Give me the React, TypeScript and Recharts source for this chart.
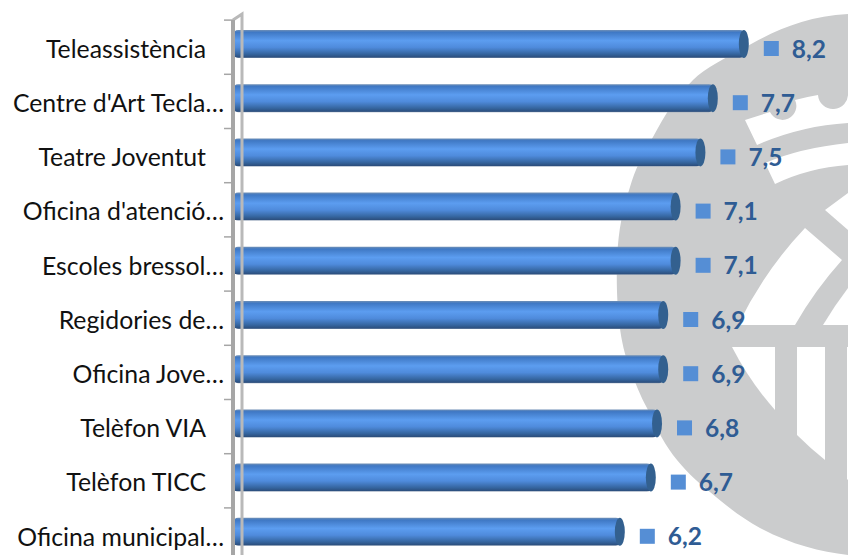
import React from "react"
import { BarChart, Bar, XAxis, YAxis, LabelList } from "recharts"

const services = [
  "Teleassistència",
  "Centre d'Art Tecla…",
  "Teatre Joventut",
  "Oficina d'atenció…",
  "Escoles bressol…",
  "Regidories de…",
  "Oficina Jove…",
  "Telèfon VIA",
  "Telèfon TICC",
  "Oficina municipal…",
]
const scores = [8.2, 7.7, 7.5, 7.1, 7.1, 6.9, 6.9, 6.8, 6.7, 6.2]

const rows = services.map((name, i) => ({ name, score: scores[i] }))

const FONT = "Lato, Carlito, sans-serif"
const GREY = "#cbcccd"

// watermark behind the chart (city emblem)
function Emblem() {
  return (
    <svg width={848} height={555} style={{ position: "absolute", left: 0, top: 0 }}>
      <path
        fill={GREY}
        d="M848,14 C810,16 780,28 753,43 C725,58 705,68 693,80 C675,98 665,115 653,137 C642,155 635,170 630,187 C622,212 618,232 617,262 C616,295 618,340 630,368 C636,385 640,395 647,408 C655,425 662,440 673,455 C685,470 695,480 710,492 C725,505 742,518 760,528 C790,544 820,552 848,555 Z"
      />
      <g fill="#fff">
        <path d="M745,120 L770,112 A12,12 0 0 0 795,100 Q806,97 818,95 A15,15 0 0 0 848,93 L848,123 Q800,126 757,145 Z" />
        <path d="M765,163 Q800,148 848,143 L848,165 Q808,168 775,184 Z" />
        <path d="M805,228 L842,260 Q815,290 795,325 L738,325 Q765,270 805,228 Z" />
        <path d="M825,210 L848,193 L848,230 Z" />
        <path d="M823,325 Q835,305 848,288 L848,325 Z" />
        <path d="M732,347 L775,347 L775,410 Q750,382 732,347 Z" />
        <path d="M797,347 L825,347 L825,460 Q810,448 797,435 Z" />
        <path d="M847,347 L848,347 L848,480 L847,479 Z" />
      </g>
    </svg>
  )
}

function CylinderBar(props: any) {
  const { x, y, width, height, background } = props
  const left = background.x
  const right = x + width
  return (
    <g>
      <rect x={left} y={y} width={right - left - 4} height={height} rx={5} ry={5} fill="url(#barShade)" />
      <ellipse cx={right - 5} cy={y + height / 2} rx={5} ry={height / 2} fill="#33608f" />
    </g>
  )
}

function ServiceTick(props: any) {
  const { y, payload, index } = props
  const cut = String(payload.value).endsWith("…")
  return (
    <g>
      {index === 0 && (
        <g fill="none">
          <polyline points={`233,20 242,14 242,560`} stroke="#b9b9b9" strokeWidth={3} />
          <line x1={233} y1={20} x2={233} y2={560} stroke="#a6a6a6" strokeWidth={4} />
        </g>
      )}
      <line x1={224} y1={y - 24} x2={233} y2={y - 24} stroke="#a6a6a6" strokeWidth={1.5} />
      <text x={cut ? 224 : 206} y={y + 5} dy="0.35em" textAnchor="end" fontFamily={FONT} fontSize={24.8} fill="#111">
        {payload.value}
      </text>
    </g>
  )
}

function ScoreLabel(props: any) {
  const { x, y, width, height, value } = props
  const right = x + width
  const mid = y + height / 2
  return (
    <g>
      <rect x={right + 15} y={mid - 3} width={15} height={15} fill="#558ed5" />
      <text x={right + 43} y={mid + 5} dy="0.35em" fontFamily={FONT} fontSize={24.5} fontWeight={700} fill="#2f5c94">
        {String(value).replace(".", ",")}
      </text>
    </g>
  )
}

export default function App() {
  return (
    <div style={{ position: "absolute", left: 0, top: 0, width: 848, height: 555, overflow: "hidden", background: "#fff" }}>
      <Emblem />
      <div style={{ position: "absolute", left: 0, top: 0 }}>
        <BarChart
          width={848}
          height={560}
          data={rows}
          layout="vertical"
          margin={{ top: 17, right: 0, bottom: 1, left: 0 }}
        >
          <defs>
            <linearGradient id="barShade" x1="0" y1="0" x2="0" y2="1">
              <stop offset="0" stopColor="#6f8fb5" />
              <stop offset="0.08" stopColor="#3f78c4" />
              <stop offset="0.38" stopColor="#5c9df0" />
              <stop offset="0.62" stopColor="#4f8bdc" />
              <stop offset="0.86" stopColor="#35659f" />
              <stop offset="0.97" stopColor="#2c4f7e" />
              <stop offset="1" stopColor="#8a9bb2" />
            </linearGradient>
          </defs>
          <XAxis type="number" hide domain={[-0.12, 9.8]} allowDataOverflow />
          <YAxis
            type="category"
            dataKey="name"
            width={233}
            interval={0}
            axisLine={false}
            tickLine={false}
            tick={<ServiceTick />}
          />
          <Bar dataKey="score" barSize={28} isAnimationActive={false} shape={<CylinderBar />}>
            <LabelList dataKey="score" content={<ScoreLabel />} />
          </Bar>
        </BarChart>
      </div>
    </div>
  )
}
